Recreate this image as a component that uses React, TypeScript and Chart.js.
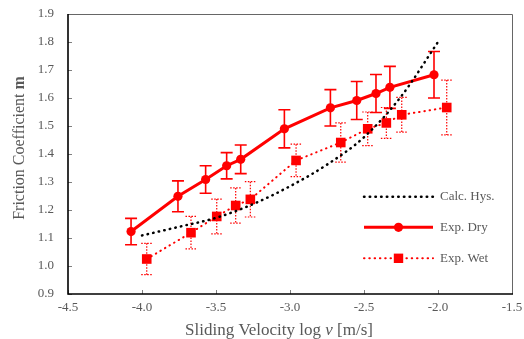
import React, { useEffect, useRef } from "react";
import { Chart, registerables } from "chart.js";
Chart.register(...registerables);

// Calculated hysteresis curve
const calcX = [-4.0, -3.75, -3.5, -3.25, -3.0, -2.75, -2.5, -2.25, -2.0];
const calcY = [1.109, 1.14, 1.172, 1.221, 1.285, 1.362, 1.46, 1.605, 1.8];

// Experimental dry
const dryX = [-4.074, -3.757, -3.57, -3.428, -3.333, -3.038, -2.727, -2.549, -2.419, -2.325, -2.027];
const dryY = [1.123, 1.249, 1.309, 1.358, 1.381, 1.49, 1.565, 1.591, 1.616, 1.638, 1.683];
const dryErr = [0.047, 0.055, 0.049, 0.047, 0.051, 0.068, 0.065, 0.068, 0.068, 0.075, 0.083];

// Experimental wet
const wetX = [-3.968, -3.669, -3.495, -3.367, -3.268, -2.959, -2.657, -2.475, -2.349, -2.245, -1.941];
const wetY = [1.025, 1.119, 1.177, 1.216, 1.238, 1.377, 1.441, 1.49, 1.511, 1.54, 1.566];
const wetErr = [0.056, 0.058, 0.062, 0.063, 0.063, 0.058, 0.07, 0.06, 0.055, 0.062, 0.098];

const xTicks = [-4.5, -4.0, -3.5, -3.0, -2.5, -2.0, -1.5];
const yTicks = [0.9, 1.0, 1.1, 1.2, 1.3, 1.4, 1.5, 1.6, 1.7, 1.8, 1.9];

const legendLabels = ["Calc. Hys.", "Exp. Dry", "Exp. Wet"];

const SERIF = "'Liberation Serif', 'Times New Roman', serif";
const GRAY = "#595959";
const RED = "#ff0000";

type Seg = [string, string];

function drawSegments(ctx: CanvasRenderingContext2D, segs: Seg[], size: number) {
  let total = 0;
  const widths: number[] = [];
  for (const [t, style] of segs) {
    ctx.font = `${style} ${size}px ${SERIF}`;
    const w = ctx.measureText(t).width;
    widths.push(w);
    total += w;
  }
  let x = -total / 2;
  segs.forEach(([t, style], i) => {
    ctx.font = `${style} ${size}px ${SERIF}`;
    ctx.fillText(t, x, 0);
    x += widths[i];
  });
}

export default function App() {
  const ref = useRef<HTMLCanvasElement>(null);

  useEffect(() => {
    const canvas = ref.current!;
    const toPts = (xs: number[], ys: number[]) => xs.map((x, i) => ({ x, y: ys[i] }));

    const decorPlugin = {
      id: "decor",
      beforeDatasetsDraw(chart: any) {
        const ctx: CanvasRenderingContext2D = chart.ctx;
        const xs = chart.scales.x;
        const ys = chart.scales.y;
        const drawErr = (X: number[], Y: number[], E: number[], dashed: boolean, cap: number, lw: number) => {
          ctx.save();
          ctx.strokeStyle = RED;
          ctx.lineWidth = lw;
          ctx.setLineDash(dashed ? [1.5, 1.5] : []);
          X.forEach((xv, i) => {
            const px = xs.getPixelForValue(xv);
            const top = ys.getPixelForValue(Y[i] + E[i]);
            const bot = ys.getPixelForValue(Y[i] - E[i]);
            ctx.beginPath();
            ctx.moveTo(px, top);
            ctx.lineTo(px, bot);
            ctx.moveTo(px - cap, top);
            ctx.lineTo(px + cap, top);
            ctx.moveTo(px - cap, bot);
            ctx.lineTo(px + cap, bot);
            ctx.stroke();
          });
          ctx.restore();
        };
        drawErr(dryX, dryY, dryErr, false, 6, 1.6);
        drawErr(wetX, wetY, wetErr, true, 5.5, 1.2);
      },
      afterDraw(chart: any) {
        const ctx: CanvasRenderingContext2D = chart.ctx;
        const a = chart.chartArea;
        const xs = chart.scales.x;
        const ys = chart.scales.y;
        ctx.save();
        // inside ticks
        ctx.strokeStyle = "#7f7f7f";
        ctx.lineWidth = 1;
        yTicks.forEach((v) => {
          const py = Math.round(ys.getPixelForValue(v)) + 0.5;
          ctx.beginPath();
          ctx.moveTo(a.left, py);
          ctx.lineTo(a.left + 4, py);
          ctx.stroke();
        });
        xTicks.forEach((v) => {
          const px = Math.round(xs.getPixelForValue(v)) + 0.5;
          ctx.beginPath();
          ctx.moveTo(px, a.bottom);
          ctx.lineTo(px, a.bottom - 4);
          ctx.stroke();
        });
        // frame
        ctx.strokeStyle = "#666666";
        ctx.lineWidth = 1;
        ctx.beginPath();
        ctx.moveTo(a.left, a.top + 0.5);
        ctx.lineTo(a.right + 0.5, a.top + 0.5);
        ctx.lineTo(a.right + 0.5, a.bottom);
        ctx.stroke();
        ctx.strokeStyle = "#000000";
        ctx.lineWidth = 1.6;
        ctx.beginPath();
        ctx.moveTo(a.left, a.top);
        ctx.lineTo(a.left, a.bottom);
        ctx.lineTo(a.right + 1, a.bottom);
        ctx.stroke();

        // legend
        const lx0 = 364, lx1 = 433, mid = 398.5, tx = 440;
        const ly = [196.7, 227.3, 258.3];
        ctx.lineCap = "round";
        // calc
        ctx.strokeStyle = "#000";
        ctx.lineWidth = 2.5;
        ctx.setLineDash([0.5, 5.2]);
        ctx.beginPath();
        ctx.moveTo(lx0, ly[0]);
        ctx.lineTo(lx1, ly[0]);
        ctx.stroke();
        // dry
        ctx.lineCap = "butt";
        ctx.setLineDash([]);
        ctx.strokeStyle = RED;
        ctx.lineWidth = 3;
        ctx.beginPath();
        ctx.moveTo(lx0, ly[1]);
        ctx.lineTo(lx1, ly[1]);
        ctx.stroke();
        ctx.fillStyle = RED;
        ctx.beginPath();
        ctx.arc(mid, ly[1], 4.6, 0, Math.PI * 2);
        ctx.fill();
        // wet
        ctx.lineCap = "round";
        ctx.lineWidth = 2;
        ctx.setLineDash([0.5, 4.8]);
        ctx.beginPath();
        ctx.moveTo(lx0, ly[2]);
        ctx.lineTo(lx1, ly[2]);
        ctx.stroke();
        ctx.setLineDash([]);
        ctx.fillRect(mid - 4.7, ly[2] - 4.7, 9.4, 9.4);
        // legend text
        ctx.fillStyle = GRAY;
        ctx.font = `13px ${SERIF}`;
        ctx.textBaseline = "middle";
        ctx.textAlign = "left";
        legendLabels.forEach((t, i) => ctx.fillText(t, tx, ly[i]));

        // axis titles
        ctx.textBaseline = "alphabetic";
        ctx.save();
        ctx.translate(279, 335);
        drawSegments(ctx, [["Sliding Velocity log ", "normal"], ["v", "italic"], [" [m/s]", "normal"]], 17);
        ctx.restore();
        ctx.save();
        ctx.translate(23.5, 148);
        ctx.rotate(-Math.PI / 2);
        drawSegments(ctx, [["Friction Coefficient ", "normal"], ["m", "bold"]], 16);
        ctx.restore();
        ctx.restore();
      },
    };

    const zeroPad = (s: any) => {
      s.paddingTop = 0;
      s.paddingBottom = 0;
      s.paddingLeft = 0;
      s.paddingRight = 0;
    };

    const chart = new Chart(canvas, {
      type: "line",
      data: {
        datasets: [
          {
            label: legendLabels[0],
            data: toPts(calcX, calcY),
            borderColor: "#000",
            borderWidth: 2.5,
            borderDash: [0.5, 5.2],
            borderCapStyle: "round",
            pointRadius: 0,
            cubicInterpolationMode: "monotone",
            fill: false,
          },
          {
            label: legendLabels[1],
            data: toPts(dryX, dryY),
            borderColor: RED,
            backgroundColor: RED,
            borderWidth: 3,
            pointStyle: "circle",
            pointRadius: 4.6,
            pointBorderWidth: 0,
            pointBackgroundColor: RED,
            fill: false,
          },
          {
            label: legendLabels[2],
            data: toPts(wetX, wetY),
            borderColor: RED,
            backgroundColor: RED,
            borderWidth: 2,
            borderDash: [0.5, 4.8],
            borderCapStyle: "round",
            pointStyle: "rect",
            pointRadius: 6.8,
            pointBorderWidth: 0,
            pointBackgroundColor: RED,
            fill: false,
          },
        ] as any,
      },
      options: {
        responsive: false,
        animation: false,
        devicePixelRatio: 1,
        layout: { padding: { top: 14, right: 12, left: 0, bottom: 0 } },
        plugins: { legend: { display: false }, tooltip: { enabled: false } },
        scales: {
          x: {
            type: "linear",
            min: -4.5,
            max: -1.5,
            afterFit: (s: any) => { s.height = 45; zeroPad(s); },
            afterBuildTicks: (s: any) => { s.ticks = xTicks.map((v) => ({ value: v })); },
            grid: { display: false, drawTicks: false },
            border: { display: false },
            ticks: {
              color: GRAY,
              font: { family: SERIF, size: 13 },
              padding: 6,
              maxRotation: 0,
              autoSkip: false,
              callback: (v: any) => Number(v).toFixed(1),
            },
          },
          y: {
            type: "linear",
            min: 0.9,
            max: 1.9,
            afterFit: (s: any) => { s.width = 68; zeroPad(s); },
            afterBuildTicks: (s: any) => { s.ticks = yTicks.map((v) => ({ value: v })); },
            grid: { display: false, drawTicks: false },
            border: { display: false },
            ticks: {
              color: GRAY,
              font: { family: SERIF, size: 13 },
              padding: 14,
              autoSkip: false,
              callback: (v: any) => Number(v).toFixed(1),
            },
          },
        },
      } as any,
      plugins: [decorPlugin],
    });
    return () => chart.destroy();
  }, []);

  return (
    <div style={{ position: "absolute", left: 0, top: 0, width: 524, height: 339, background: "#fff" }}>
      <canvas ref={ref} width={524} height={339} style={{ display: "block" }} />
    </div>
  );
}
